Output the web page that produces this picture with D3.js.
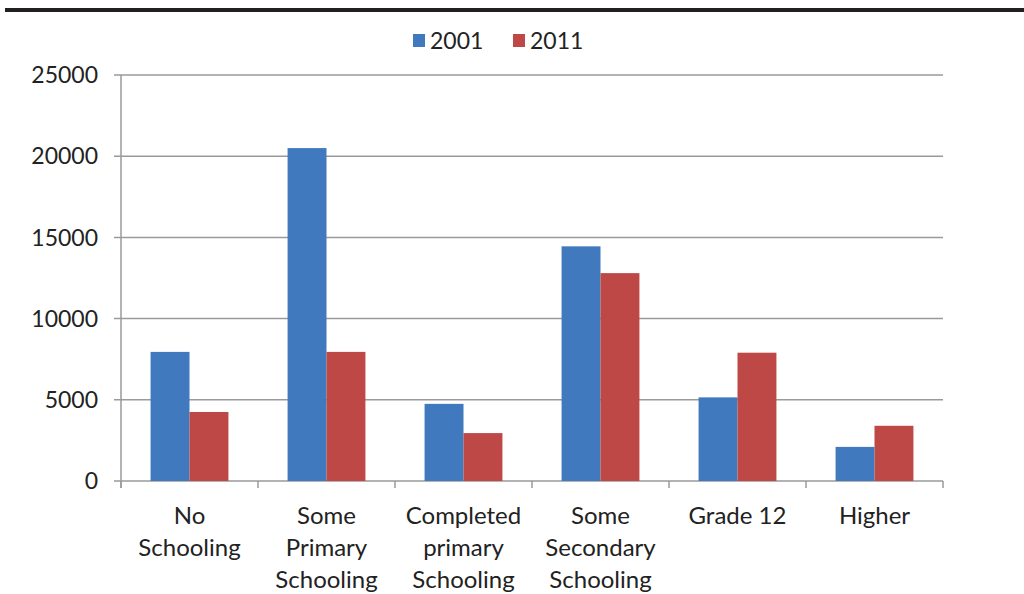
<!DOCTYPE html>
<html>
<head>
<meta charset="utf-8">
<script src="https://cdn.jsdelivr.net/npm/d3@7"></script>
<style>
  body { margin: 0; background: #fff; }
  svg text { font-family: Lato, "Open Sans", sans-serif; fill: #222; }
</style>
</head>
<body>
<svg id="chart"></svg>
<script>
// chart data
const categories = [
  ["No", "Schooling"],
  ["Some", "Primary", "Schooling"],
  ["Completed", "primary", "Schooling"],
  ["Some", "Secondary", "Schooling"],
  ["Grade 12"],
  ["Higher"]
];
const seriesNames = ["2001", "2011"];
const values2001 = [7950, 20500, 4750, 14450, 5150, 2100];
const values2011 = [4250, 7950, 2950, 12800, 7900, 3400];
const yTicks = [0, 5000, 10000, 15000, 20000, 25000];
const colors = ["#4079bd", "#be4845"];

function drawChart() {
  var svgWidth = 1024, svgHeight = 594;
  var plotLeft = 121, plotRight = 943, plotTop = 75, plotBottom = 481;

  var svg = d3.select('#chart')
    .attr("width", svgWidth)
    .attr("height", svgHeight);

  // thick rule across the top
  svg.append("rect")
    .attr("x", 5).attr("y", 8)
    .attr("width", svgWidth - 5).attr("height", 4)
    .attr("fill", "#231f20");

  var idx = d3.range(categories.length);
  var x = d3.scaleBand().domain(idx).range([plotLeft, plotRight]);
  var y = d3.scaleLinear().domain([0, 25000]).range([plotBottom, plotTop]);
  var inner = d3.scaleBand().domain([0, 1]).range([0, x.bandwidth()]).paddingOuter(0.76).paddingInner(0);

  // gridlines + y labels
  svg.selectAll(".grid")
    .data(yTicks)
    .enter()
    .append("line")
    .attr("x1", plotLeft - 7).attr("x2", plotRight)
    .attr("y1", function(d) { return y(d); })
    .attr("y2", function(d) { return y(d); })
    .attr("stroke", "#9a9a9a")
    .attr("stroke-width", 1.5);

  svg.selectAll(".ylab")
    .data(yTicks)
    .enter()
    .append("text")
    .attr("x", 98)
    .attr("y", function(d) { return y(d); })
    .attr("dy", "0.36em")
    .attr("text-anchor", "end")
    .style("font-size", "23px")
    .text(function(d) { return d; });

  // y axis line
  svg.append("line")
    .attr("x1", plotLeft).attr("x2", plotLeft)
    .attr("y1", plotTop).attr("y2", plotBottom + 7)
    .attr("stroke", "#9a9a9a").attr("stroke-width", 1.5);

  // x ticks
  svg.selectAll(".xtick")
    .data(d3.range(categories.length + 1))
    .enter()
    .append("line")
    .attr("x1", function(d) { return plotLeft + d * x.bandwidth(); })
    .attr("x2", function(d) { return plotLeft + d * x.bandwidth(); })
    .attr("y1", plotBottom).attr("y2", plotBottom + 7)
    .attr("stroke", "#9a9a9a").attr("stroke-width", 1.5);

  // bars
  var allSeries = [values2001, values2011];
  allSeries.forEach(function(vals, s) {
    svg.selectAll(".bar" + s)
      .data(vals)
      .enter()
      .append("rect")
      .attr("class", "bar" + s)
      .attr("x", function(d, i) { return x(i) + inner(s); })
      .attr("y", function(d) { return y(d); })
      .attr("width", inner.bandwidth())
      .attr("height", function(d) { return plotBottom - y(d); })
      .attr("fill", colors[s]);
  });

  // x labels
  var xl = svg.selectAll(".xlab")
    .data(categories)
    .enter()
    .append("text")
    .attr("class", "xlab")
    .attr("text-anchor", "middle")
    .style("font-size", "24px");
  xl.each(function(lines, i) {
    var t = d3.select(this);
    lines.forEach(function(line, j) {
      t.append("tspan")
        .attr("x", x(i) + x.bandwidth() / 2)
        .attr("y", 524 + j * 32)
        .text(line);
    });
  });

  // legend
  var legX = [413, 513];
  seriesNames.forEach(function(name, s) {
    svg.append("rect")
      .attr("x", legX[s]).attr("y", 34)
      .attr("width", 12).attr("height", 13)
      .attr("fill", colors[s]);
    svg.append("text")
      .attr("x", legX[s] + 17).attr("y", 41)
      .attr("dy", "0.36em")
      .style("font-size", "23px")
      .text(name);
  });
}

drawChart();
</script>
</body>
</html>
